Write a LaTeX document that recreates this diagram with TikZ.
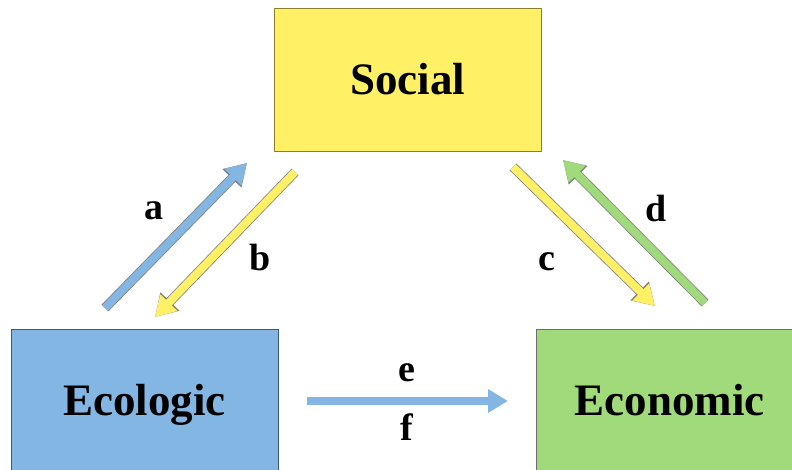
\documentclass[tikz,border=0pt]{standalone}
\usepackage{fontspec}
\setmainfont{Liberation Serif}
\usetikzlibrary{arrows.meta}

\definecolor{socyellow}{HTML}{FFF066}
\definecolor{socedge}{HTML}{8C7E2C}
\definecolor{ecoblue}{HTML}{83B6E3}
\definecolor{ecoedge}{HTML}{3F5870}
\definecolor{ecngreen}{HTML}{A0DA7A}
\definecolor{ecnedge}{HTML}{6E6E6E}

\tikzset{
  box/.style={draw, line width=0.8pt, inner sep=0pt, minimum width=267pt,
    text height=32pt, text depth=2pt,
    font=\fontsize{45}{50}\selectfont\bfseries},
  lbl/.style={inner sep=0pt, font=\fontsize{38}{42}\selectfont\bfseries},
  flowedge/.style={line width=9.6pt, draw=black!50,
    -{Triangle[length=21.5pt,width=25pt]}},
  flow/.style={line width=8pt, -{Triangle[length=20pt,width=22.5pt]}},
}

\begin{document}
\begin{tikzpicture}[x=1pt,y=-1pt]
\useasboundingbox (0,0) rectangle (792,470);

     \node [box, fill=socyellow, draw=socedge, minimum height=143pt] at (407.5,79.5) (soc) {Social};
     \node [box, fill=ecoblue, draw=ecoedge, minimum height=142pt] at (144.5,400) (eco) {Ecologic};
     \node [box, fill=ecngreen, draw=ecnedge, minimum height=142pt] at (669.5,400) (ecn) {Economic};
%
     \coordinate (a0) at (105,308);  \coordinate (a1) at (247,163);
     \coordinate (b0) at (295,172);  \coordinate (b1) at (155,317);
     \coordinate (c0) at (513,167);  \coordinate (c1) at (655,306);
     \coordinate (d0) at (705,303);  \coordinate (d1) at (563,160);
     \coordinate (e0) at (307,401);  \coordinate (e1) at (508,401);
%
\draw[flowedge] (a0)--(a1);  \draw[flow, ecoblue] (a0)--(a1);
\draw[flowedge] (b0)--(b1);  \draw[flow, socyellow] (b0)--(b1);
\draw[flowedge] (c0)--(c1);  \draw[flow, socyellow] (c0)--(c1);
\draw[flowedge] (d0)--(d1);  \draw[flow, ecngreen] (d0)--(d1);
\draw[flow, ecoblue] (e0)--(e1);
%
     \node [lbl] at (154,211) (la) {a};
     \node [lbl] at (260,258) (lb) {b};
     \node [lbl] at (547,262) (lc) {c};
     \node [lbl] at (656,209) (ld) {d};
     \node [lbl] at (407,373) (le) {e};
     \node [lbl] at (407,427) (lf) {f};
%
\end{tikzpicture}
\end{document}
